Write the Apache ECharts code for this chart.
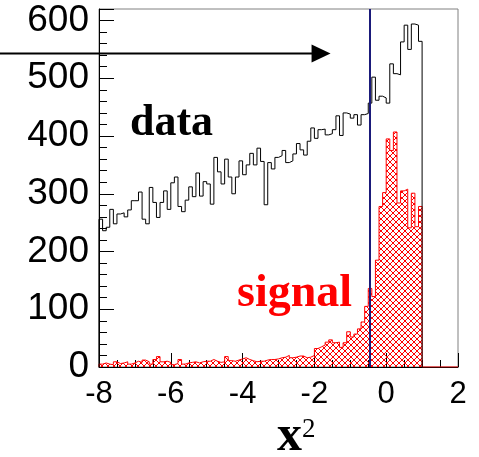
<!DOCTYPE html>
<html>
<head>
<meta charset="utf-8">
<script src="https://cdn.jsdelivr.net/npm/echarts@6/dist/echarts.min.js"></script>
<style>
  html, body { margin: 0; padding: 0; background: #ffffff; }
  #chart { width: 479px; height: 457px; }
</style>
</head>
<body>
<div id="chart"></div>
<script>
// Histogram binning: 90 bins of width 0.1 starting at x^2 = -8
const binStart = -8;
const binWidth = 0.1;
const xMin = -8, xMax = 2;
const yMin = 0, yMax = 620;

// Counts per bin, all events
const dataCounts = [
  256, 236, 242, 273, 248, 265, 267, 260, 272, 288,
  288, 303, 256, 248, 311, 285, 259, 285, 305, 273,
  319, 329, 278, 269, 289, 312, 295, 336, 296, 321,
  317, 282, 363, 338, 317, 360, 329, 300, 329, 357,
  333, 350, 370, 350, 379, 356, 281, 354, 343, 363,
  366, 375, 354, 357, 369, 387, 376, 367, 391, 414,
  396, 411, 412, 402, 404, 411, 435, 401, 440, 438,
  431, 437, 419, 437, 439, 457, 502, 462, 469, 466,
  457, 525, 508, 506, 563, 592, 550, 594, 592, 564
];

// Counts per bin, signal events
const signalCounts = [
  5, 7, 5, 4, 9, 6, 7, 9, 5, 7,
  10, 8, 12, 9, 5, 13, 18, 9, 10, 8,
  4, 6, 13, 5, 7, 8, 9, 7, 9, 10,
  10, 13, 10, 8, 9, 18, 11, 10, 12, 14,
  16, 13, 11, 9, 10, 10, 12, 13, 13, 14,
  16, 17, 20, 16, 17, 19, 19, 16, 17, 20,
  32, 35, 38, 43, 47, 42, 43, 34, 42, 61,
  52, 57, 66, 78, 105, 136, 122, 185, 278, 302,
  395, 375, 407, 284, 305, 308, 241, 301, 243, 278
];

// Cut position and the arrow marking the accepted region
const cutX = -0.47;
const arrowY = 543;
const arrowTipX = -1.55;

// Build step-outline vertices from bin edges
function histPoints(counts, extendTo) {
  const pts = [[binStart, 0]];
  counts.forEach((v, i) => pts.push([+(binStart + i * binWidth).toFixed(3), v]));
  const end = +(binStart + counts.length * binWidth).toFixed(3);
  pts.push([end, counts[counts.length - 1]]);
  pts.push([end, 0]);
  if (extendTo !== undefined) pts.push([extendTo, 0]);
  return pts;
}

// Red diagonal cross-hatch tile
function crossHatch() {
  const n = 6;
  const c = document.createElement('canvas');
  c.width = n; c.height = n;
  const g = c.getContext('2d');
  g.fillStyle = '#ff0000';
  for (let i = 0; i < n; i++) {
    g.fillRect(i, i, 1, 1);
    g.fillRect(n - 1 - i, i, 1, 1);
  }
  return c;
}

const chart = echarts.init(document.getElementById('chart'), null, { renderer: 'canvas' });

chart.setOption({
  animation: false,
  backgroundColor: '#ffffff',
  grid: {
    left: 99, right: 21, top: 9, bottom: 90,
    show: true, borderColor: '#808080', borderWidth: 1,
    backgroundColor: 'transparent'
  },
  xAxis: {
    type: 'value', min: xMin, max: xMax, interval: 2,
    axisLine: { show: true, onZero: false, lineStyle: { color: '#000', width: 1 } },
    axisTick: { show: true, inside: true, length: 14, lineStyle: { color: '#000', width: 1 } },
    minorTick: { show: true, splitNumber: 4, length: 7, lineStyle: { color: '#000', width: 1 } },
    splitLine: { show: false },
    axisLabel: { margin: 12, formatter: v => String(v),
      fontFamily: 'Liberation Sans', fontSize: 31, color: '#000' }
  },
  yAxis: {
    type: 'value', min: yMin, max: yMax, interval: 100,
    axisLine: { show: true, onZero: false, lineStyle: { color: '#000', width: 1 } },
    axisTick: { show: true, inside: true, length: 15, lineStyle: { color: '#000', width: 1 } },
    minorTick: { show: true, splitNumber: 5, length: 8, lineStyle: { color: '#000', width: 1 } },
    splitLine: { show: false },
    axisLabel: { margin: 10, showMaxLabel: false,
      fontFamily: 'Liberation Sans', fontSize: 37, color: '#000' }
  },
  series: [
    {
      name: 'signal', type: 'line', step: 'end', symbol: 'none',
      data: histPoints(signalCounts, xMax),
      lineStyle: { color: '#ff0000', width: 1 },
      areaStyle: { color: { image: crossHatch(), repeat: 'repeat' }, opacity: 1, origin: 'start' },
      z: 2,
      markLine: {
        silent: true, symbol: ['none', 'none'], label: { show: false },
        lineStyle: { color: '#1a1a7a', width: 2, type: 'solid' },
        data: [{ xAxis: cutX }]
      }
    },
    {
      name: 'data', type: 'line', step: 'end', symbol: 'none',
      data: histPoints(dataCounts),
      lineStyle: { color: '#000000', width: 1 },
      z: 3
    }
  ]
});

// Text annotations and the selection arrow
const tip = chart.convertToPixel({ gridIndex: 0 }, [arrowTipX, arrowY]);
chart.setOption({
  graphic: [
    { type: 'line', shape: { x1: 0, y1: tip[1], x2: tip[0] - 16, y2: tip[1] },
      style: { stroke: '#000', lineWidth: 2 } },
    { type: 'polygon', shape: { points: [[tip[0], tip[1]], [tip[0] - 19, tip[1] - 9], [tip[0] - 19, tip[1] + 9]] },
      style: { fill: '#000' } },
    { type: 'text', x: 130, y: 102,
      style: { text: 'data', fill: '#000', font: 'bold 44px "Liberation Serif"', verticalAlign: 'top' } },
    { type: 'text', x: 237, y: 271,
      style: { text: 'signal', fill: '#ff0000', font: 'bold 46px "Liberation Serif"', verticalAlign: 'top' } },
    { type: 'text', x: 277, y: 462,
      style: { text: 'x', fill: '#000', font: 'bold 50px "Liberation Serif"', verticalAlign: 'bottom' } },
    { type: 'text', x: 302, y: 416,
      style: { text: '2', fill: '#000', font: '27px "Liberation Serif"', verticalAlign: 'top' } }
  ]
});
</script>
</body>
</html>
